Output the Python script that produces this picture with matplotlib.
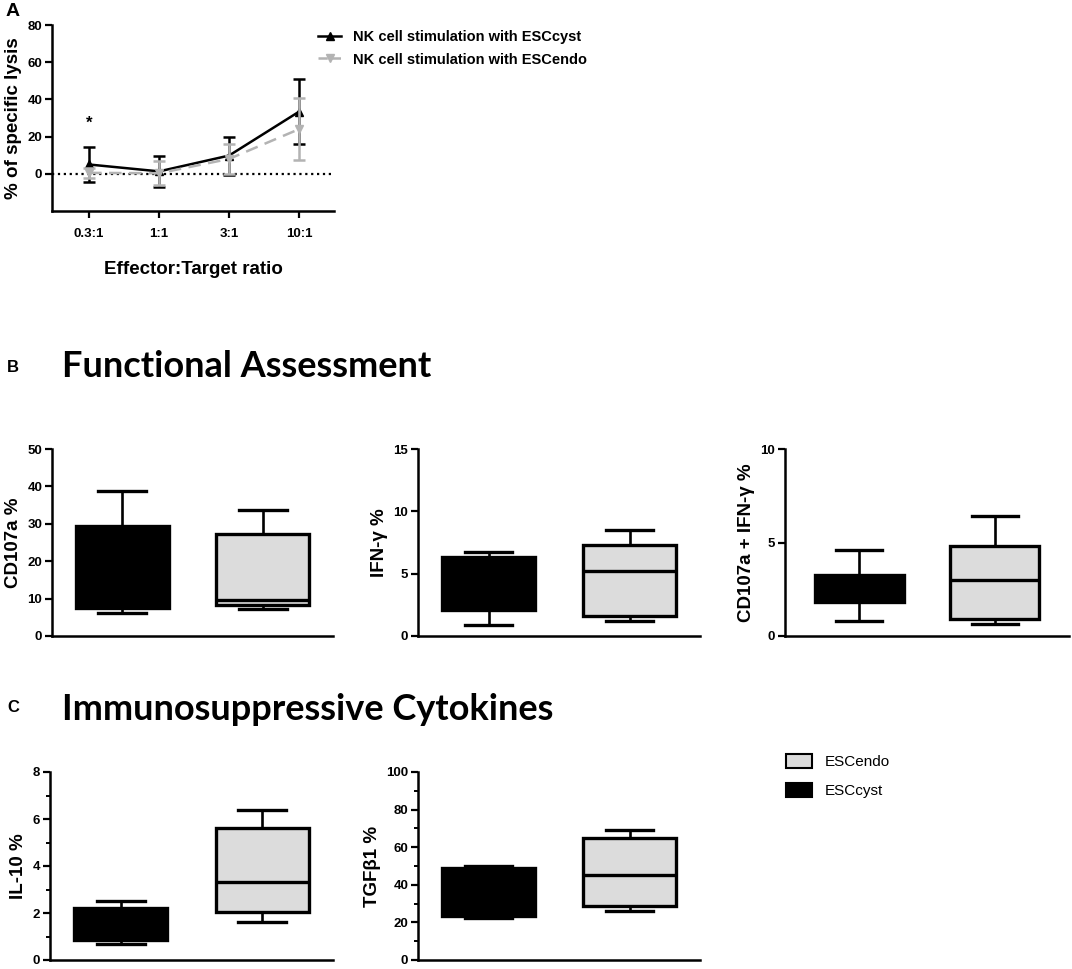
import matplotlib
matplotlib.use("Agg")
import matplotlib.pyplot as plt
from matplotlib import font_manager
from matplotlib.lines import Line2D
from matplotlib.patches import Patch

# panel A data
ratios = ["0.3:1", "1:1", "3:1", "10:1"]
lysis_cyst = [5.0, 1.3, 9.8, 33.4]
lysis_cyst_err = [9.6, 8.3, 10.2, 17.4]
lysis_endo = [0.5, 0.3, 8.0, 24.0]
lysis_endo_err = [2.5, 6.4, 8.2, 16.6]

# box plots: [low whisker, Q1, median, Q3, high whisker]
groups = ["ESCcyst", "ESCendo"]
cd107a_cyst = [6.2, 7.5, 15.0, 29.3, 38.8]
cd107a_endo = [7.1, 8.3, 9.6, 27.4, 33.6]
ifng_cyst = [0.9, 2.1, 4.5, 6.3, 6.7]
ifng_endo = [1.2, 1.6, 5.2, 7.3, 8.5]
double_cyst = [0.8, 1.8, 2.5, 3.25, 4.6]
double_endo = [0.65, 0.9, 3.0, 4.8, 6.4]
il10_cyst = [0.7, 0.85, 1.5, 2.23, 2.5]
il10_endo = [1.6, 2.05, 3.33, 5.6, 6.4]
tgf_cyst = [22.5, 23.6, 35.0, 49.1, 50.2]
tgf_endo = [25.9, 28.9, 45.2, 64.7, 69.0]

names = {f.name for f in font_manager.fontManager.ttflist}
narrow = "Liberation Sans Narrow" if "Liberation Sans Narrow" in names else "Liberation Sans"
plt.rcParams["font.family"] = "Liberation Sans"
plt.rcParams["font.weight"] = "bold"

W, H = 1072, 969
fig = plt.figure(figsize=(W / 100, H / 100), dpi=100)


def px_axes(left, top, right, bottom):
    return fig.add_axes([left / W, 1 - bottom / H, (right - left) / W, (bottom - top) / H])


def style(ax):
    for s in ["top", "right"]:
        ax.spines[s].set_visible(False)
    for s in ["left", "bottom"]:
        ax.spines[s].set_linewidth(1.8)
    ax.tick_params(axis="both", width=1.6, length=5, labelsize=9.5, pad=2)


def boxes(ax, cyst, endo, ylim, yticks, ylabel, minor=None, xlim=(0.5, 2.5)):
    stats = []
    for v, name in zip([cyst, endo], groups):
        stats.append(dict(whislo=v[0], q1=v[1], med=v[2], q3=v[3], whishi=v[4], fliers=[], label=name))
    bp = ax.bxp(stats, positions=[1, 2], widths=0.66, patch_artist=True, showfliers=False,
                boxprops=dict(linewidth=2.4, edgecolor="black"),
                whiskerprops=dict(linewidth=1.9, color="black"),
                capprops=dict(linewidth=2.4, color="black"),
                medianprops=dict(linewidth=2.4, color="black"),
                capwidths=0.34)
    bp["boxes"][0].set_facecolor("black")
    bp["boxes"][1].set_facecolor("#dcdcdc")
    ax.set_xlim(*xlim)
    ax.set_ylim(*ylim)
    ax.set_yticks(yticks)
    if minor is not None:
        ax.set_yticks(minor, minor=True)
        ax.tick_params(axis="y", which="minor", length=3, width=1.4)
    ax.set_xticks([])
    ax.set_ylabel(ylabel, fontsize=13.5, fontweight="bold", labelpad=4)
    style(ax)


# panel A
axA = px_axes(52, 25, 334, 211)
x = list(range(len(ratios)))
axA.axhline(0, color="black", linestyle=":", linewidth=1.6, zorder=1)
axA.errorbar(x, lysis_cyst, yerr=lysis_cyst_err, color="black", marker="^", markersize=6,
             linewidth=1.8, capsize=4, capthick=1.8, elinewidth=1.8, zorder=3)
axA.errorbar(x, lysis_endo, yerr=lysis_endo_err, color="#b3b3b3", marker="v", markersize=6,
             linewidth=1.8, linestyle="--", dashes=(5, 3), capsize=4, capthick=1.8, elinewidth=1.8, zorder=4)
axA.text(0, 27.4, "*", ha="center", va="center", fontsize=12)
axA.set_xlim(-0.53, 3.5)
axA.set_ylim(-20, 80)
axA.set_yticks([0, 20, 40, 60, 80])
axA.set_xticks(x)
axA.set_xticklabels(ratios)
axA.set_ylabel("% of specific lysis", fontsize=13.5, fontweight="bold", labelpad=4)
axA.set_xlabel("Effector:Target ratio", fontsize=13.5, fontweight="bold", labelpad=15)
style(axA)
axA.tick_params(axis="x", pad=7)

handlesA = [Line2D([], [], color="black", marker="^", markersize=6, linewidth=1.8),
            Line2D([], [], color="#b3b3b3", marker="v", markersize=6, linewidth=1.8, linestyle="--")]
fig.legend(handlesA, ["NK cell stimulation with ESCcyst", "NK cell stimulation with ESCendo"],
           loc="upper left", bbox_to_anchor=(312 / W, 1 - 24 / H), frameon=False,
           prop=dict(family="Liberation Sans", weight="bold", size=10.5),
           handlelength=1.6, handletextpad=0.8, labelspacing=0.6, borderaxespad=0)

fig.text(6 / W, 1 - 12 / H, "A", fontsize=14, fontweight="bold", va="center")

# panel B
fig.text(7 / W, 1 - 367 / H, "B", fontsize=12, fontweight="bold", va="center")
fig.text(62 / W, 1 - 377 / H, "Functional Assessment", fontsize=26, fontweight="bold",
         family="Lato", va="baseline")
ax1 = px_axes(52, 449, 333, 636)
boxes(ax1, cd107a_cyst, cd107a_endo, (0, 50), [0, 10, 20, 30, 40, 50], "CD107a %")
ax2 = px_axes(418, 449, 700, 636)
boxes(ax2, ifng_cyst, ifng_endo, (0, 15), [0, 5, 10, 15], "IFN-γ %")
ax3 = px_axes(785, 449, 1069, 636)
boxes(ax3, double_cyst, double_endo, (0, 10), [0, 5, 10], "CD107a + IFN-γ %", xlim=(0.45, 2.55))

# panel C
fig.text(7 / W, 1 - 708 / H, "C", fontsize=12, fontweight="bold", va="center")
fig.text(62 / W, 1 - 720 / H, "Immunosuppressive Cytokines", fontsize=26, fontweight="bold",
         family="Lato", va="baseline")
ax4 = px_axes(50, 772, 333, 960)
boxes(ax4, il10_cyst, il10_endo, (0, 8), [0, 2, 4, 6, 8], "IL-10 %", minor=[1, 3, 5, 7])
ax5 = px_axes(418, 772, 700, 960)
boxes(ax5, tgf_cyst, tgf_endo, (0, 100), [0, 20, 40, 60, 80, 100], "TGFβ1 %",
      minor=[10, 30, 50, 70, 90])

handlesC = [Patch(facecolor="#dcdcdc", edgecolor="black", linewidth=1.5),
            Patch(facecolor="black", edgecolor="black", linewidth=1.5)]
fig.legend(handlesC, ["ESCendo", "ESCcyst"], loc="upper left",
           bbox_to_anchor=(780 / W, 1 - 748 / H), frameon=False,
           prop=dict(family=narrow, weight="normal", size=11),
           handlelength=1.7, handleheight=1.0, handletextpad=0.8, labelspacing=0.9, borderaxespad=0)

fig.savefig("out.png", dpi=100)
